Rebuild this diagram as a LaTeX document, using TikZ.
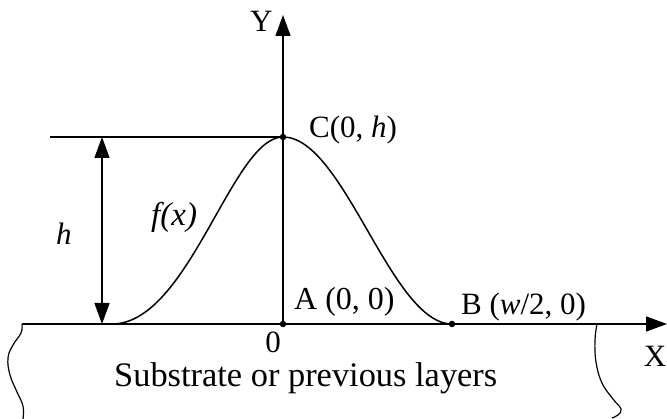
\documentclass[tikz,border=0pt]{standalone}
\usepackage{fontspec}
\setmainfont{Liberation Serif}
\usetikzlibrary{arrows.meta}
\begin{document}
\begin{tikzpicture}[x=1pt,y=-1pt,
  line/.style={line width=1.5pt},
  thin line/.style={line width=1.2pt},
  tip/.style={-{Triangle[length=21pt,width=15pt]}},
  dot/.style={circle,fill=black,inner sep=0pt,minimum size=6.5pt},
  lbl/.style={inner sep=0pt,font=\fontsize{31}{37}\selectfont}]
\useasboundingbox (0,0) rectangle (667,419);
% points
\node[dot] (A) at (283,324) {};
\node[dot] (C) at (283,137) {};
\node[dot] (B) at (452,324) {};
\coordinate (xl) at (22,324);
\coordinate (xr) at (667,324);
\coordinate (yt) at (283,15);
\coordinate (hl) at (50,137);
\coordinate (ht) at (102,137);
\coordinate (hb) at (102,324);
\coordinate (L) at (112,324);
% axes
\draw[line,tip] (xl) -- (xr);
\draw[line,tip] (A.center) -- (yt);
% height line and dimension arrow
\draw[line] (hl) -- (C.center);
\draw[line,{Triangle[length=21pt,width=15pt]}-{Triangle[length=21pt,width=15pt]}] (ht) -- (hb);
% profile
\draw[line] (L) .. controls (189,324) and (232,137) .. (C.center)
            .. controls (344,137) and (391,324) .. (B.center);
% break lines
\draw[thin line] plot[smooth,tension=0.7] coordinates {(22,324) (21,333) (13,345) (8,358) (10,375) (17,392) (23,406) (23,419)};
\draw[thin line] plot[smooth,tension=0.7] coordinates {(597,324) (595,340) (596,362) (602,383) (613,399) (621,409) (618,415) (612,418)};
% labels
\node[lbl,anchor=base west] (ly) at (250,32) {Y};
\node[lbl,anchor=base west] (lc) at (309,138) {C(0, \textit{h})};
\node[lbl,anchor=base west,font=\fontsize{33}{39}\selectfont] (lf) at (151,226) {\textit{f(x)}};
\node[lbl,anchor=base west] (lh) at (56,245) {\textit{h}};
\node[lbl,anchor=base west,font=\fontsize{32}{38}\selectfont] (la) at (294,310) {A (0, 0)};
\node[lbl,anchor=base west] (lb) at (461,315) {B (\textit{w}/2, 0)};
\node[lbl,anchor=base] (l0) at (273,353) {0};
\node[lbl,anchor=base] (lx) at (655,367) {X};
\node[lbl,anchor=base west,font=\fontsize{34.4}{41}\selectfont] (ls) at (114,387) {Substrate or previous layers};
\end{tikzpicture}
\end{document}
